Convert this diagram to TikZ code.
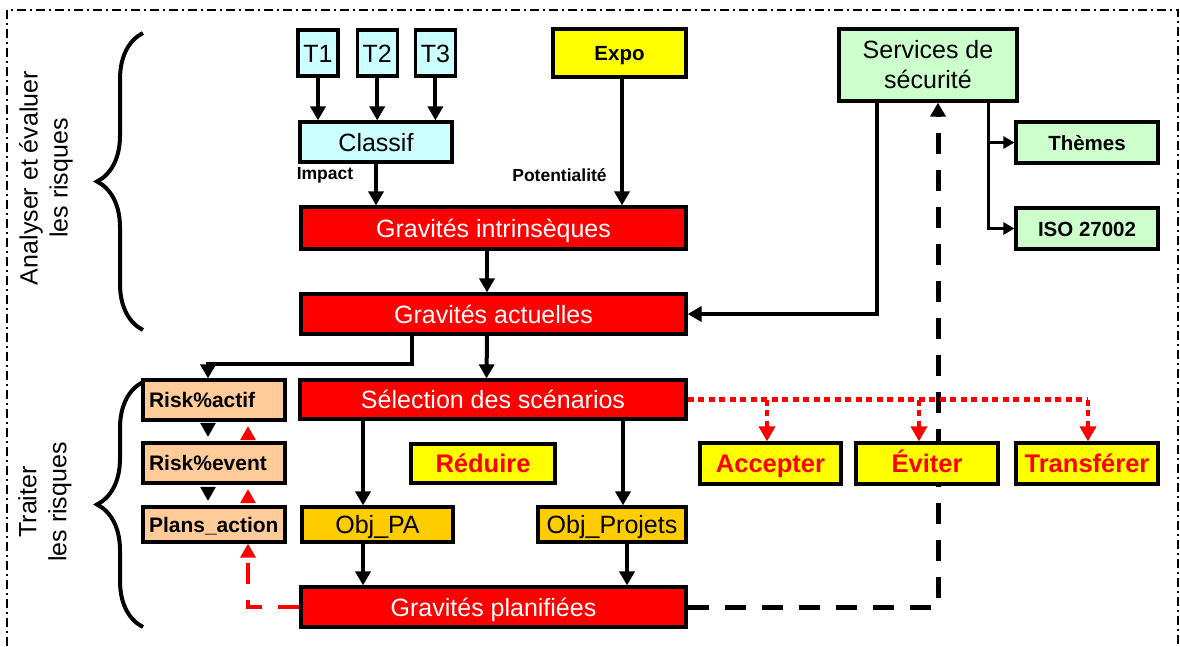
\documentclass[tikz,border=0pt]{standalone}
\usepackage{fontspec}
\setmainfont{Liberation Sans}
\usetikzlibrary{positioning, arrows.meta, decorations.pathreplacing}
\pgfdeclarelayer{background}
\pgfsetlayers{background,main}
\definecolor{gravRed}{HTML}{FF0000}
\definecolor{expoYellow}{HTML}{FFFF00}
\definecolor{inputCyan}{HTML}{CCFFFF}
\definecolor{serviceGreen}{HTML}{CCFFCC}
\definecolor{objGold}{HTML}{FFCC00}
\definecolor{riskPeach}{HTML}{FFCC99}
\newcommand{\boxLine}{3.2pt}
\newcommand{\bigFont}{\fontsize{25}{30}\selectfont}
\newcommand{\midFont}{\fontsize{21}{25}\selectfont\bfseries}
\tikzstyle{block}=[draw, line width=\boxLine, inner sep=0pt, font=\bigFont]
\tikzstyle{capBig}=[text height=18pt, text depth=0pt]
\tikzstyle{capSmall}=[text height=15pt, text depth=0pt]
\tikzstyle{inputBlock}=[block, capBig, fill=inputCyan, minimum height=46pt]
\tikzstyle{gravity}=[block, capBig, fill=gravRed, text=white, minimum width=385pt, minimum height=40pt]
\tikzstyle{serviceBlock}=[block, capSmall, fill=serviceGreen, font=\fontsize{20.5}{24}\selectfont\bfseries, minimum width=142pt, minimum height=41pt]
\tikzstyle{decision}=[block, capBig, fill=expoYellow, text=gravRed, font=\fontsize{25.5}{30}\selectfont\bfseries, minimum width=142pt, minimum height=41pt]
\tikzstyle{objective}=[block, capBig, fill=objGold, minimum height=35pt]
\tikzstyle{riskBlock}=[block, capSmall, fill=riskPeach, font=\midFont, text width=130pt, align=left, inner xsep=6pt, minimum height=40pt]
\tikzstyle{dataLabel}=[font=\fontsize{17.5}{20}\selectfont\bfseries]
\tikzstyle{sideLabel}=[rotate=90, align=center, font=\fontsize{25}{30}\selectfont]
\tikzstyle{arrow}=[-{Triangle[length=14pt, width=15pt]}, line width=4pt]
\tikzstyle{thinArrow}=[-{Triangle[length=11pt, width=12pt]}, line width=3pt]
\tikzstyle{tip}=[-{Triangle[length=14pt, width=15pt]}, line width=3pt, shorten <=4.5pt, shorten >=4.5pt]
\tikzstyle{dashedArrow}=[arrow, line width=5pt, dash pattern=on 21pt off 16pt]
\tikzstyle{redDashed}=[arrow, gravRed, dash pattern=on 21pt off 16pt]
\tikzstyle{redDotted}=[line width=4.5pt, gravRed, dash pattern=on 6pt off 4.5pt]
\tikzstyle{redDotArrow}=[redDotted, -{Triangle[length=15pt, width=16pt]}]
\tikzstyle{brace}=[decorate, decoration={brace, amplitude=46pt}, line width=4pt]

\begin{document}
\begin{tikzpicture}[x=1pt, y=1pt, node distance=16pt]
  \useasboundingbox (0,0) rectangle (1180,-646);
  \draw[line width=2pt, dash pattern=on 9pt off 4pt on 2pt off 4pt]
    (7,-646) -- (7,-10) -- (1178,-10) -- (1178,-646);

  % analyse
  \node[inputBlock, minimum width=40pt] (t1) at (318,-53) {T1};
  \node[inputBlock, minimum width=40pt, right=of t1] (t2) {T2};
  \node[inputBlock, minimum width=40pt, right=15pt of t2] (t3) {T3};
  \node[inputBlock, minimum width=152pt, minimum height=40pt] (classif) at (376,-142) {Classif};
  \node[block, capSmall, fill=expoYellow, font=\fontsize{20.5}{24}\selectfont\bfseries,
    minimum width=133pt, minimum height=48pt] (expo) at (619.5,-53) {Expo};
  \node[gravity, minimum height=42pt] (gi) at (493.5,-228) {Gravités intrinsèques};
  \node[gravity] (ga) at (493.5,-314) {Gravités actuelles};
  \node[block, fill=serviceGreen, align=center, minimum width=178pt, minimum height=72pt]
    (svc) at (928,-65) {Services de\\sécurité};
  \node[serviceBlock] (themes) at (1087,-142.5) {Thèmes};
  \node[serviceBlock] (iso) at (1087,-228.5) {ISO 27002};
  \node[dataLabel] (impact) at (325,-175) {Impact};
  \node[dataLabel] (potent) at (559.5,-175) {Potentialité};

  % traitement
  \node[gravity, minimum width=386pt, minimum height=39pt] (sel) at (493,-399.5) {Sélection des scénarios};
  \node[decision, minimum width=144pt, minimum height=39pt] (reduce) at (483,-463.5) {Réduire};
  \node[decision, minimum width=141pt] (accept) at (770.5,-463.5) {Accepter};
  \node[decision] (avoid) at (927,-463.5) {Éviter};
  \node[decision] (transfer) at (1087,-463.5) {Transférer};
  \node[objective, minimum width=151pt] (pa) at (377.5,-524.5) {Obj\_PA};
  \node[objective, minimum width=148pt] (proj) at (612,-524.5) {Obj\_Projets};
  \node[gravity] (gp) at (493.5,-607) {Gravités planifiées};
  \node[riskBlock] (ract) at (214,-400) {Risk\%actif};
  \node[riskBlock] (revt) at (214,-463) {Risk\%event};
  \node[riskBlock, minimum height=35pt] (pact) at (214,-524.5) {Plans\_action};

  \draw[brace] (143,-330) -- (143,-33);
  \draw[brace] (143,-627) -- (143,-382);
  \node[sideLabel] (lblA) at (46,-178) {Analyser et évaluer\\les risques};
  \node[sideLabel] (lblT) at (45,-502) {Traiter\\les risques};

  \foreach \t in {t1,t2,t3}
    \draw[arrow] (\t.south) -- (\t.south |- classif.north);
  \draw[arrow] (classif.south) -- (classif.south |- gi.north);
  \draw[arrow] ([xshift=2.5pt]expo.south) -- ([xshift=2.5pt]expo.south |- gi.north);
  \draw[arrow] ([xshift=-6.5pt]gi.south) -- ([xshift=-6.5pt]ga.north);
  \draw[arrow] ([xshift=-6.5pt]ga.south) -- ([xshift=-6.5pt]sel.north);
  \draw[arrow] ([xshift=-81.5pt]ga.south) -- ++(0,-28) -| ([xshift=-6pt]ract.north);
  \draw[arrow] ([xshift=-51pt]svc.south) |- (ga.east);
  \draw[thinArrow] ([xshift=60pt]svc.south) |- (themes.west);
  \draw[thinArrow] ([xshift=60pt]svc.south) |- (iso.west);
  \draw[arrow] ([xshift=-130pt]sel.south) -- ([xshift=-14.5pt]pa.north);
  \draw[arrow] ([xshift=130pt]sel.south) -- ([xshift=11pt]proj.north);
  \draw[arrow] ([xshift=-14.5pt]pa.south) -- ([xshift=-130.5pt]gp.north);
  \draw[arrow] ([xshift=15pt]proj.south) -- ([xshift=133.5pt]gp.north);
  \begin{pgfonlayer}{background}
    \draw[dashedArrow] (gp.east) -| ([xshift=10pt]svc.south);
  \end{pgfonlayer}
  \draw[redDashed] (gp.west) -| ([xshift=34pt]pact.south);

  \draw[tip] ([xshift=-6pt]ract.south) -- ([xshift=-6pt]revt.north);
  \draw[tip] ([xshift=-6pt]revt.south) -- ([xshift=-6pt]pact.north);
  \draw[tip, gravRed] ([xshift=34pt]revt.north) -- ([xshift=34pt]ract.south);
  \draw[tip, gravRed] ([xshift=34pt]pact.north) -- ([xshift=34pt]revt.south);

  \draw[redDotted] (sel.east) -- ([xshift=1pt]transfer.north |- sel.east);
  \draw[redDotArrow] ([xshift=1pt]transfer.north |- sel.east) -- ([xshift=1pt]transfer.north);
  \draw[redDotArrow] ([xshift=-3.5pt]accept.north |- sel.east) -- ([xshift=-3.5pt]accept.north);
  \draw[redDotArrow] ([xshift=-8pt]avoid.north |- sel.east) -- ([xshift=-8pt]avoid.north);
\end{tikzpicture}
\end{document}
